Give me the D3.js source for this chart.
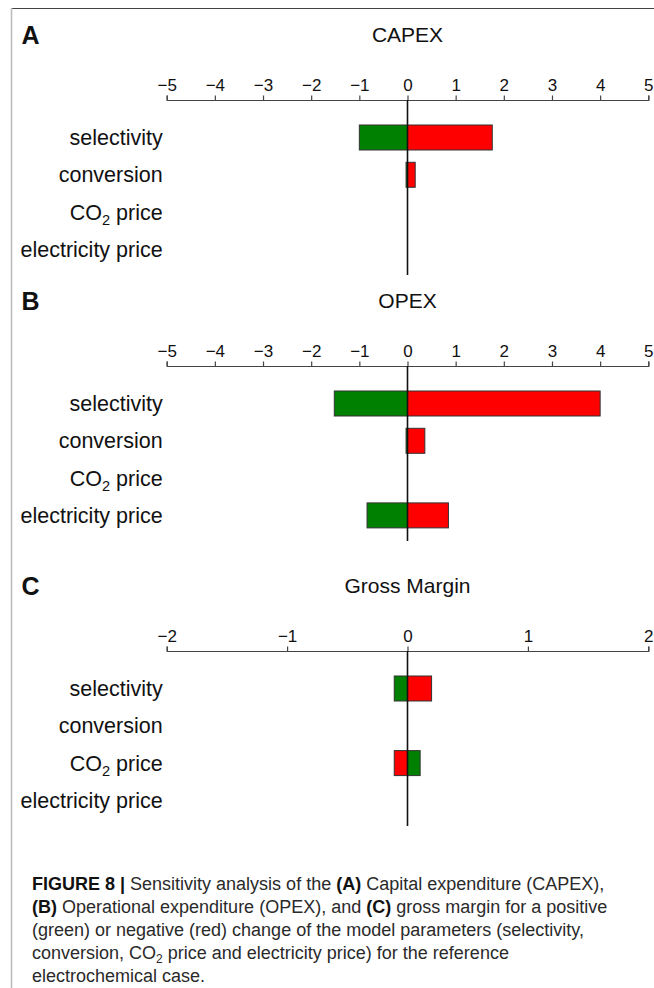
<!DOCTYPE html>
<html>
<head>
<meta charset="utf-8">
<script src="https://cdn.jsdelivr.net/npm/d3@7"></script>
<style>
  html, body { margin: 0; padding: 0; background: #fff; }
  svg { display: block; font-family: "Liberation Sans", Arial, Helvetica, sans-serif; }
</style>
</head>
<body>
<svg id="fig" width="654" height="988"></svg>
<script>
// Model parameters varied in the sensitivity study
const categories = ["selectivity", "conversion", "CO2 price", "electricity price"];

// Relative change for a positive (green) and negative (red) parameter change
const capexGreen  = [-1.00, -0.03, 0, 0];
const capexRed    = [ 1.76,  0.16, 0, 0];
const opexGreen   = [-1.52, -0.03, 0, -0.84];
const opexRed     = [ 4.00,  0.36, 0,  0.85];
const marginGreen = [-0.11,  0, 0.105, 0];
const marginRed   = [ 0.20,  0, -0.11, 0];

// Axis ticks per panel
const ticksWide   = [-5, -4, -3, -2, -1, 0, 1, 2, 3, 4, 5];
const ticksMargin = [-2, -1, 0, 1, 2];

const panels = [
  { letter: "A", title: "CAPEX",        green: capexGreen,  red: capexRed,    ticks: ticksWide,   top: 0 },
  { letter: "B", title: "OPEX",         green: opexGreen,   red: opexRed,     ticks: ticksWide,   top: 266 },
  { letter: "C", title: "Gross Margin", green: marginGreen, red: marginRed,   ticks: ticksMargin, top: 551 }
];

const GREEN = "#008000", RED = "#ff0000";
const svg = d3.select("#fig");

// outer frame
svg.append("line").attr("x1", 11.5).attr("x2", 654).attr("y1", 8.5).attr("y2", 8.5)
  .attr("stroke", "#444").attr("stroke-width", 1.2);
svg.append("line").attr("x1", 11.5).attr("x2", 11.5).attr("y1", 8).attr("y2", 988)
  .attr("stroke", "#bdbdbd").attr("stroke-width", 1.6);

const axisY = 100;        // axis position inside a panel
const lineBottom = 175;   // zero line length below axis
const step = 37.3, bandH = 25;

function label(g, text, x, y, size) {
  const t = g.append("text").attr("x", x).attr("y", y)
    .attr("text-anchor", "end").attr("font-size", size).attr("fill", "#111");
  if (text.startsWith("CO2")) {
    t.append("tspan").text("CO");
    t.append("tspan").attr("font-size", size * 0.68).attr("dy", 5).text("2");
    t.append("tspan").attr("dy", -5).text(text.slice(3));
  } else {
    t.text(text);
  }
}

panels.forEach(p => {
  const g = svg.append("g").attr("transform", `translate(0,${p.top})`);
  const lim = d3.max(p.ticks);
  const x = d3.scaleLinear().domain([-lim, lim]).range([166.7, 648.3]);
  const y = d3.scaleBand().domain(categories)
    .range([axisY + 25 - step * 0.165, axisY + 25 - step * 0.165 + step * 4])
    .paddingInner(1 - bandH / step).paddingOuter(0.165);

  // panel letter and title
  g.append("text").attr("x", 21.5).attr("y", 44).attr("font-size", 25)
    .attr("font-weight", "bold").attr("fill", "#111").text(p.letter);
  g.append("text").attr("x", x(0)).attr("y", 41.5).attr("text-anchor", "middle")
    .attr("font-size", 21).attr("fill", "#111").text(p.title);

  // top axis with ticks pointing up
  const axis = d3.axisTop(x).tickValues(p.ticks).tickSize(4.5).tickPadding(5)
    .tickFormat(d => d < 0 ? "\u2212" + Math.abs(d) : String(d));
  const ag = g.append("g").attr("transform", `translate(0,${axisY})`).call(axis);
  ag.select(".domain").attr("stroke", "#444").attr("stroke-width", 1.2);
  ag.selectAll(".tick line").attr("stroke", "#444").attr("stroke-width", 1.2);
  ag.selectAll(".tick text").attr("font-size", 17).attr("fill", "#111")
    .attr("font-family", "'Liberation Sans', Arial, sans-serif");

  // category labels
  categories.forEach(c => label(g, c, 162.7, y(c) + bandH / 2 + 7.5, 21.5));

  // bars
  const rows = categories.map((c, i) => ({ c, green: p.green[i], red: p.red[i] }));
  const bars = [];
  rows.forEach(r => {
    if (r.green !== 0) bars.push({ c: r.c, v: r.green, fill: GREEN });
    if (r.red !== 0) bars.push({ c: r.c, v: r.red, fill: RED });
  });
  g.selectAll("rect.bar").data(bars).join("rect").attr("class", "bar")
    .attr("x", d => Math.min(x(0), x(d.v)))
    .attr("width", d => Math.abs(x(d.v) - x(0)))
    .attr("y", d => y(d.c)).attr("height", y.bandwidth())
    .attr("fill", d => d.fill).attr("stroke", "#333").attr("stroke-width", 1);

  // zero line
  g.append("line").attr("x1", x(0)).attr("x2", x(0))
    .attr("y1", axisY).attr("y2", axisY + lineBottom)
    .attr("stroke", "#111").attr("stroke-width", 1.6);
});

// caption
const captionLines = [
  [["FIGURE 8 |", true], [" Sensitivity analysis of the ", false], ["(A)", true], [" Capital expenditure (CAPEX),", false]],
  [["(B)", true], [" Operational expenditure (OPEX), and ", false], ["(C)", true], [" gross margin for a positive", false]],
  [["(green) or negative (red) change of the model parameters (selectivity,", false]],
  [["conversion, CO", false], ["2", "sub"], [" price and electricity price) for the reference", false]],
  [["electrochemical case.", false]]
];
const cap = svg.append("g").attr("font-size", 18).attr("fill", "#2a2a2a");
captionLines.forEach((line, i) => {
  const t = cap.append("text").attr("x", 32).attr("y", 890 + i * 23);
  let afterSub = false;
  line.forEach(([s, style]) => {
    const ts = t.append("tspan").text(s);
    if (afterSub) { ts.attr("dy", -4); afterSub = false; }
    if (style === true) ts.attr("font-weight", "bold").attr("fill", "#111");
    if (style === "sub") { ts.attr("font-size", 12).attr("dy", 4); afterSub = true; }
  });
});
</script>
</body>
</html>
